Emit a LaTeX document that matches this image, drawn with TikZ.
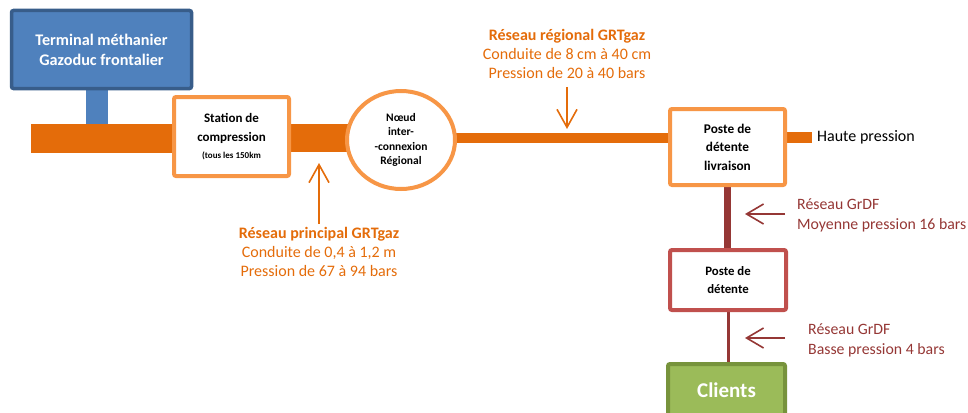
\documentclass[tikz,border=0pt]{standalone}
\usepackage{fontspec}
\setmainfont{Carlito}
\usetikzlibrary{positioning,arrows.meta,shapes.geometric,backgrounds}
\definecolor{GazOrange}{RGB}{228,108,10}
\definecolor{LightOrange}{RGB}{247,150,70}
\definecolor{TermBlue}{RGB}{79,129,189}
\definecolor{TermBorder}{RGB}{56,93,138}
\definecolor{GrdfRed}{RGB}{149,55,53}
\definecolor{PosteRed}{RGB}{192,80,77}
\definecolor{ClientGreen}{RGB}{155,187,89}
\definecolor{ClientBorder}{RGB}{119,147,60}

\begin{document}
\begin{tikzpicture}[x=1pt, y=-1pt,
  box/.style={draw=LightOrange, line width=4pt, rounded corners=2pt, fill=white, align=center, inner sep=0pt},
  pipe/.style={draw=GazOrange, line cap=butt},
  pointer/.style={draw=GazOrange, line width=1.6pt, -{Straight Barb[length=18pt,width=20pt]}},
  grdfpointer/.style={draw=GrdfRed, line width=1.6pt, -{Straight Barb[length=17pt,width=20pt]}},
  label/.style={align=center, inner sep=0pt, text=GazOrange, font=\fontsize{16}{19}\selectfont},
  grdflabel/.style={align=left, anchor=west, inner sep=0pt, text=GrdfRed, font=\fontsize{15.8}{20}\selectfont}]
  \useasboundingbox (0,0) rectangle (968,412);

  % boxes
  \node[draw=TermBorder, fill=TermBlue, line width=3.5pt, rounded corners=2pt, minimum width=180pt, minimum height=78pt,
        text=white, align=center, font=\fontsize{16.2}{20}\selectfont\bfseries] (terminal) at (101.5,49.5)
        {Terminal méthanier\\Gazoduc frontalier};
  \node[box, minimum width=115pt, minimum height=79pt, font=\fontsize{13}{19}\selectfont\bfseries] (station) at (231.5,136.5)
        {Station de\\compression\\[-2pt]{\fontsize{9}{11}\selectfont(tous les 150km}};
  \node[ellipse, draw=LightOrange, line width=4pt, fill=white, minimum width=108pt, minimum height=98pt, inner sep=0pt,
        align=center, font=\fontsize{11.5}{14.5}\selectfont\bfseries] (noeud) at (401,140)
        {Nœud\\inter-\\-connexion\\Régional};
  \node[box, minimum width=115pt, minimum height=76pt, font=\fontsize{13.3}{18.5}\selectfont\bfseries] (livraison) at (727.5,147)
        {Poste de\\détente\\livraison};
  \node[box, draw=PosteRed, minimum width=116pt, minimum height=60pt, font=\fontsize{12.8}{18}\selectfont\bfseries] (detente) at (728,280)
        {Poste de\\détente};
  \node[draw=ClientBorder, fill=ClientGreen, line width=4pt, rounded corners=2pt, minimum width=117pt, minimum height=56pt,
        inner sep=0pt] (clients) at (726.5,392) {};
  \node[text=white, inner sep=0pt, font=\fontsize{21}{26}\selectfont\bfseries] (clientstext) at (726.5,390) {Clients};

  % pipes
  \coordinate (pipestart) at (31,138);
  \coordinate (tap) at (97,130);
  \coordinate (stubend) at (812,137.5);
  \begin{scope}[on background layer]
    \draw[draw=TermBlue, line width=22pt] (tap |- terminal.south) -- (tap);
    \draw[pipe, line width=29pt] (pipestart) -- (pipestart -| station.center);
    \draw[pipe, line width=28pt] (pipestart -| station.center) -- (pipestart -| noeud.center);
    \draw[pipe, line width=10pt] (pipestart -| noeud.center) -- (pipestart -| livraison.center);
    \draw[pipe, line width=11pt] (livraison.center |- stubend) -- (stubend);
    \draw[draw=GrdfRed, line width=7pt] (livraison.center) -- (livraison.center |- detente.center);
    \draw[draw=GrdfRed, line width=3pt] (detente.center) -- (detente.center |- clients.center);
  \end{scope}
  \node[anchor=west, inner sep=0pt, font=\fontsize{16}{18}\selectfont] (haute) at (817,137) {Haute pression};

  % labels
  \node[label] (principal) at (319,252)
        {\textbf{Réseau principal GRTgaz}\\Conduite de 0,4 à 1,2 m\\Pression de 67 à 94 bars};
  \node[label] (regional) at (567,54)
        {\textbf{Réseau régional GRTgaz}\\Conduite de 8 cm à 40 cm\\Pression de 20 à 40 bars};
  \node[grdflabel] (moyenne) at (797,215) {Réseau GrDF\\Moyenne pression 16 bars};
  \node[grdflabel] (basse) at (808,340) {Réseau GrDF\\Basse pression 4 bars};

  % arrows
  \coordinate (tipP) at (319,163);
  \coordinate (tipR) at (567,129);
  \coordinate (tipM) at (745,214);
  \coordinate (tipB) at (745,338);
  \draw[pointer] ([yshift=3pt]principal.north) -- (tipP);
  \draw[pointer] ([yshift=-8pt]regional.south) -- (tipR);
  \draw[grdfpointer] ([xshift=-12pt]moyenne.west |- tipM) -- (tipM);
  \draw[grdfpointer] ([xshift=-23pt]basse.west |- tipB) -- (tipB);
\end{tikzpicture}
\end{document}
